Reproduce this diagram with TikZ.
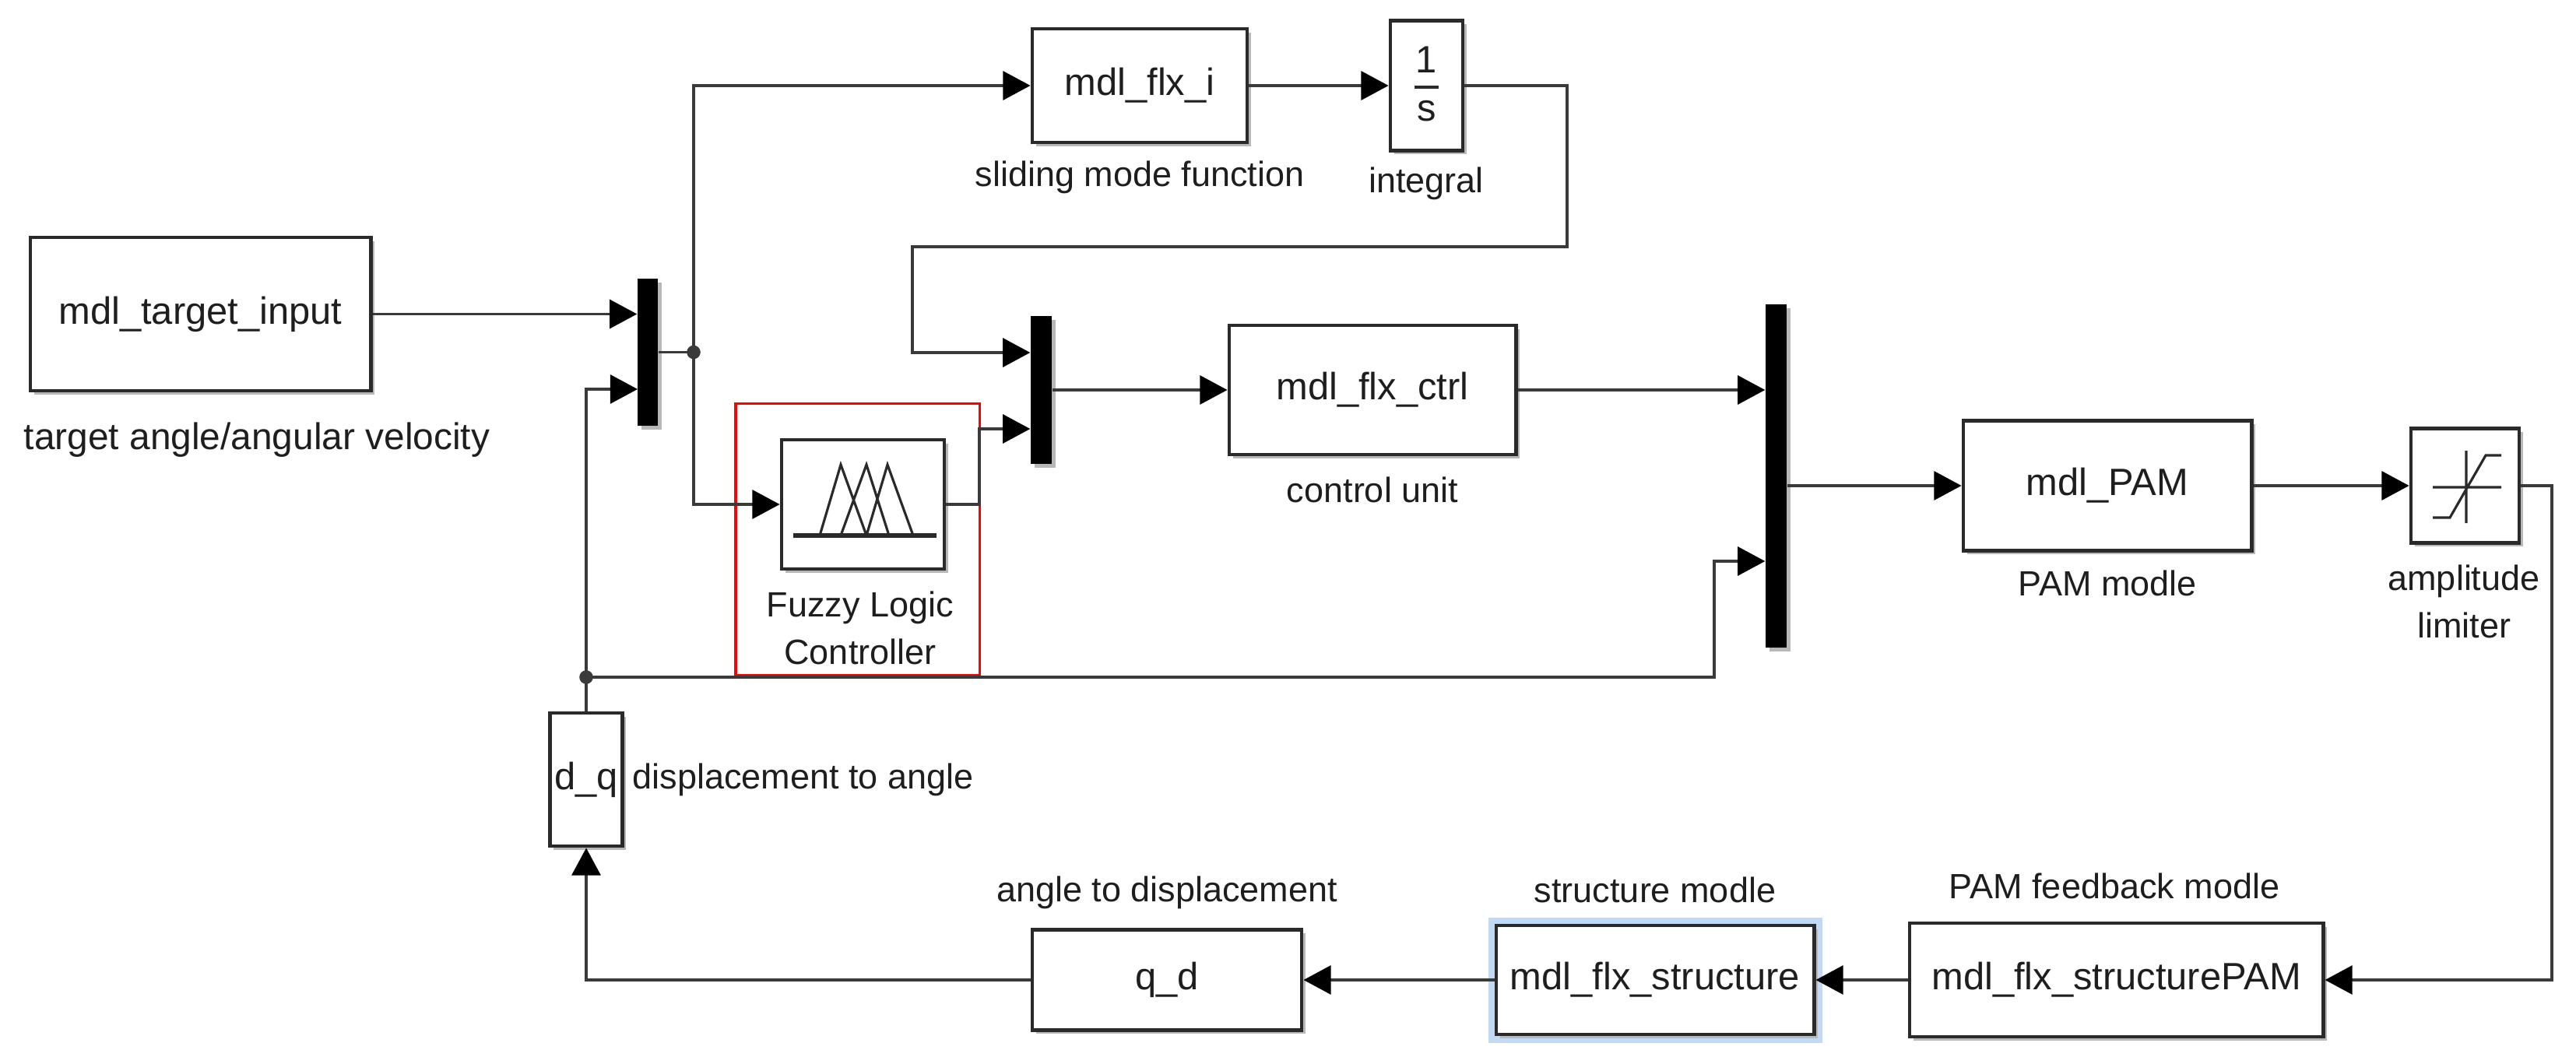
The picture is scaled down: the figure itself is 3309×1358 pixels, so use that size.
\documentclass[tikz,border=0pt]{standalone}
\usepackage{fontspec}
\setmainfont{Liberation Sans}
\usetikzlibrary{arrows.meta,shadows}
\definecolor{ln}{HTML}{3A3A3A}
\definecolor{bd}{HTML}{2A2A2A}
\definecolor{hl}{HTML}{C2D9F6}
\definecolor{tx}{HTML}{1E1E1E}
\begin{document}
\begin{tikzpicture}[x=0.01cm,y=-0.01cm,
  boxfont/.style={font=\fontsize{13.9}{16.5}\selectfont},
  lblfont/.style={font=\fontsize{12.8}{17.5}\selectfont},
  blk/.style={draw=bd, line width=1.35pt, fill=white, inner sep=0pt, text=tx, boxfont,
    general shadow={fill=black!28, shadow xshift=1.4pt, shadow yshift=-1.4pt}},
  muxbar/.style={fill=black, draw=none, inner sep=0pt,
    general shadow={fill=black!28, shadow xshift=1.4pt, shadow yshift=-1.4pt}},
  wire/.style={draw=ln, line width=0.95pt},
  arr/.style={wire, -{Triangle[length=10pt,width=10.5pt,color=black]}},
  lbl/.style={inner sep=0pt, text=tx, lblfont, align=center},
  icon/.style={draw=bd, line width=0.9pt}
]
\useasboundingbox (0,0) rectangle (3309,1358);

% ---- blocks
\node[blk, minimum width=4.37cm, minimum height=1.97cm] (tgt) at (257.5,403.5) {mdl\_target\_input};
\node[muxbar, minimum width=0.26cm, minimum height=1.89cm] (mux1) at (832,452.5) {};
\node[blk, minimum width=2.76cm, minimum height=1.46cm] (flxi) at (1464,110) {mdl\_flx\_i};
\node[blk, minimum width=0.93cm, minimum height=1.67cm] (integ) at (1832.5,110) {};
\node[muxbar, minimum width=0.27cm, minimum height=1.90cm] (mux2) at (1337.5,501) {};
\node[blk, minimum width=3.68cm, minimum height=1.66cm] (ctrl) at (1763,501) {mdl\_flx\_ctrl};
\node[draw=red, line width=0.9pt, inner sep=0pt, minimum width=3.13cm, minimum height=3.48cm] (redbox) at (1101.5,693) {};
\node[blk, minimum width=2.09cm, minimum height=1.66cm] (fuz) at (1108.5,648) {};
\node[muxbar, minimum width=0.27cm, minimum height=4.41cm] (mux3) at (2281.5,611.5) {};
\node[blk, minimum width=3.70cm, minimum height=1.67cm] (pam) at (2707,624) {mdl\_PAM};
\node[blk, minimum width=1.39cm, minimum height=1.47cm] (sat) at (3166.5,624) {};
\node[blk, minimum width=5.31cm, minimum height=1.46cm] (spam) at (2718.5,1259) {mdl\_flx\_structurePAM};
\node[fill=hl, inner sep=0pt, minimum width=4.29cm, minimum height=1.61cm] (hlt) at (2126.5,1259.5) {};
\node[blk, minimum width=4.08cm, minimum height=1.40cm] (struct) at (2126,1259) {mdl\_flx\_structure};
\node[blk, minimum width=3.46cm, minimum height=1.29cm] (qd) at (1499,1259) {q\_d};
\node[blk, minimum width=0.93cm, minimum height=1.71cm] (dq) at (753,1001.5) {d\_q};

% ---- integrator content
\node[inner sep=0pt, text=tx, boxfont] (one) at (1832.5,77) {1};
\node[inner sep=0pt, text=tx, boxfont] (ess) at (1832.5,143) {s};
\draw[bd, line width=1.1pt] (1817,112) -- (1848,112);

% ---- fuzzy icon
\draw[bd, line width=1.5pt] (1019,688) -- (1203,688);
\draw[icon] (1053,688) -- (1080,597) -- (1113,688)
            (1080,688) -- (1113,597) -- (1142,688)
            (1113,688) -- (1140,597) -- (1173,688);

% ---- saturation icon
\draw[icon] (3125,626) -- (3213,626)
            (3168,579) -- (3168,672)
            (3125,665) -- (3147,665) -- (3193,585) -- (3213,585);

% ---- labels
\node[lbl, font=\fontsize{13.6}{16}\selectfont] (ltgt) at (330,565) {target angle/angular velocity};
\node[lbl] (lflxi) at (1464,228) {sliding mode function};
\node[lbl] (linteg) at (1832,236) {integral};
\node[lbl] (lctrl) at (1763,629) {control unit};
\node[lbl] (lfuz) at (1105,807) {Fuzzy Logic\\Controller};
\node[lbl] (lpam) at (2707,749) {PAM modle};
\node[lbl] (lsat) at (3165,773) {amplitude\\limiter};
\node[lbl] (lspam) at (2716,1138) {PAM feedback modle};
\node[lbl] (lstruct) at (2126,1143) {structure modle};
\node[lbl] (lqd) at (1499,1147) {angle to displacement};
\node[lbl, anchor=west] (ldq) at (812,1002) {displacement to angle};

% ---- coordinates
\coordinate (j1) at (891,452.5);
\coordinate (i1) at (2013,317);
\coordinate (i2) at (1172,453);
\coordinate (f1) at (1258,551);
\coordinate (j2) at (753,870);
\coordinate (p2) at (819,500);
\coordinate (k1) at (2202,721);
\coordinate (s1) at (3278,1259);

% ---- wires
\draw[arr] (tgt.east) -- (tgt.east -| mux1.west);
\draw[wire] (mux1.east) -- (j1);
\draw[arr] (j1) |- (flxi.west);
\draw[arr] (j1) |- (fuz.west);
\draw[arr] (flxi.east) -- (flxi.east -| integ.west);
\draw[arr] (integ.east) -| (i1) -| (i2) -- (i2 -| mux2.west);
\draw[arr] (fuz.east) -| (f1) -- (f1 -| mux2.west);
\draw[arr] (mux2.east) -- (ctrl.west);
\draw[arr] (ctrl.east) -- (ctrl.east -| mux3.west);
\draw[arr] (dq.north) -- (j2) |- (p2);
\draw[arr] (j2) -| (k1) -- (k1 -| mux3.west);
\draw[arr] (pam.west -| mux3.east) -- (pam.west);
\draw[arr] (pam.east) -- (sat.west);
\draw[arr] (sat.east) -| (s1) -- (spam.east);
\draw[arr] (spam.west) -- (struct.east);
\draw[arr] (struct.west) -- (qd.east);
\draw[arr] (qd.west) -| (dq.south);

% ---- junction dots
\fill[ln] (j1) circle (2.5pt);
\fill[ln] (j2) circle (2.5pt);
\end{tikzpicture}
\end{document}
